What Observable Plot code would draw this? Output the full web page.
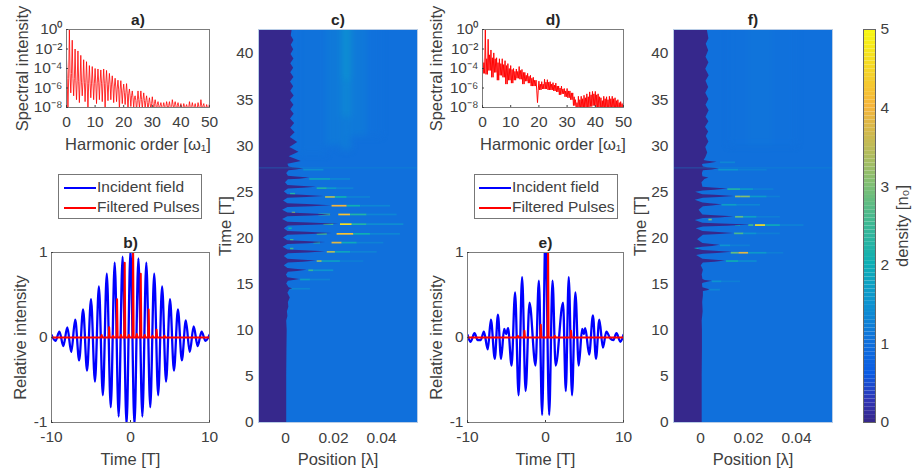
<!DOCTYPE html>
<html><head><meta charset="utf-8">
<script src="https://cdn.jsdelivr.net/npm/d3@7"></script>
<script src="https://cdn.jsdelivr.net/npm/@observablehq/plot@0.6"></script>
<style>
html,body{margin:0;padding:0;background:#fff;overflow:hidden}
#page{position:relative;width:914px;height:469px;overflow:hidden;font-family:'Liberation Sans',Arial,sans-serif;color:#404040}
.legend{position:absolute;box-sizing:border-box;border:1px solid #777;background:#fff;width:144px;height:45px;font-size:15.5px}
.legend div{position:absolute;white-space:nowrap}
.legend .sw{height:2px;width:32px}
</style></head><body><div id="page"></div>
<script>
// ---- spectra: log10 spectral intensity per harmonic 0..50
const aPeak=[-3,0,-1.1,-2,-2.2,-2.65,-3.1,-3.3,-3.7,-3.8,-4,-4.05,-4.15,-4.05,-4.2,-4.5,-4.75,-5,-5.2,-5.25,-5.6,-5.55,-6.1,-6.3,-6.8,-6.3,-6.3,-6.5,-6.8,-7,-6.9,-7.2,-7.4,-7.5,-7.5,-7.4,-7.4,-7.2,-7.4,-7.5,-7.6,-7.6,-7.7,-7.4,-7.5,-7.6,-7.5,-7.2,-7.6,-7.7,-7.6];
const aMid=[-5,-4.5,-5,-5.2,-5.3,-5.4,-5.4,-5.5,-5.5,-5.5,-5.5,-5.4,-5.5,-5.5,-5.6,-5.6,-5.8,-6,-6.2,-6.3,-6.5,-6.6,-6.8,-7,-7.3,-7.2,-7.2,-7.3,-7.5,-7.6,-7.6,-7.7,-7.8,-7.9,-7.9,-7.8,-7.9,-7.7,-7.8,-7.9,-8,-7.9,-8,-7.9,-7.9,-8,-7.9,-7.8,-8,-8,-7.9];
const aLow=[-8.5,-6.5,-6.8,-7.2,-7.5,-6.8,-7.4,-8.5,-7,-7.2,-7.6,-7.2,-7.4,-8.5,-7.3,-7.2,-7.5,-7.4,-8.2,-7.6,-7.7,-8.5,-7.9,-8,-8.4,-8,-8.2,-8.1,-8.5,-8.2,-8.3,-8.5,-8.2,-8.4,-8.3,-8.5,-8.3,-8.2,-8.5,-8.3,-8.4,-8.4,-8.6,-8.3,-8.4,-8.5,-8.3,-8.3,-8.5,-8.4,-8.3];
const dPeak=[-2.8,0,-1,-2.1,-2.4,-2.9,-3,-3,-3.2,-3.5,-3.7,-4,-4.05,-3.8,-4.1,-4.4,-4.5,-4.7,-4.9,-5.2,-5.3,-5.35,-5.1,-5.15,-5.35,-5.45,-5.5,-5.8,-5.8,-6.05,-6.05,-6.3,-6.5,-7.2,-6.85,-6.85,-6.75,-6.6,-6.4,-6.35,-6.35,-6.6,-7,-6.85,-6.9,-6.85,-6.85,-7,-7.2,-7.4,-7.4];
const dHigh=[-3.4,-3,-2.6,-2.9,-3,-3.4,-3.5,-3.6,-3.7,-4,-4.1,-4.3,-4.3,-4.2,-4.4,-4.7,-4.8,-5,-5.2,-7.5,-5.6,-5.6,-5.4,-5.4,-5.6,-5.7,-5.8,-6,-6.1,-6.3,-6.3,-6.5,-6.9,-7.5,-7.2,-7.1,-7,-6.9,-6.7,-6.6,-6.7,-6.9,-7.3,-7.1,-7.2,-7.1,-7.1,-7.3,-7.5,-7.6,-7.7];
const dLow=[-4.5,-4.6,-4.2,-4.9,-4.4,-5.2,-4.7,-4.9,-5.6,-5.2,-5.5,-5.2,-5,-5.1,-5.6,-5.3,-5.5,-5.8,-5.8,-6.3,-6.2,-6.1,-6.1,-6.2,-6.2,-6.3,-6.4,-6.7,-6.6,-6.9,-7,-7.2,-7.8,-8.5,-8.2,-8.3,-8,-8.2,-7.9,-7.8,-8.1,-8,-8.5,-8.2,-8.4,-8.2,-8.3,-8.4,-8.5,-8.5,-8.5];
// ---- incident field and filtered pulses
const bBlueT=[-10,-9.5,-9,-8.5,-8,-7.5,-7,-6.5,-6,-5.5,-5,-4.5,-4,-3.5,-3,-2.5,-2,-1.5,-1,-.5,0,.5,1,1.5,2,2.5,3,3.5,4,4.5,5,5.5,6,6.5,7,7.5,8,8.5,9,9.5,10];
const bBlueV=[.03,-.04,.07,-.1,.12,-.17,.21,-.27,.33,-.39,.45,-.52,.6,-.68,.75,-.82,.88,-.93,.95,-1.03,1.03,-1.03,.93,-.93,.88,-.82,.75,-.68,.6,-.52,.45,-.39,.33,-.27,.2,-.17,.13,-.1,.07,-.04,.03];
const bRedT=[-10,-3.75,-3.65,-3.55,-2.77,-2.7,-2.63,-2.3,-2.2,-2.1,-1.77,-1.7,-1.63,-1.3,-1.2,-1.1,-.8,-.73,-.66,-.3,-.2,-.1,.26,.33,.4,.7,.8,.9,1.23,1.3,1.37,1.7,1.8,1.9,2.23,2.3,2.37,2.7,2.8,2.9,3.23,3.3,3.37,4.2,4.3,4.4,10];
const bRedV=[0,0,.03,0,0,.12,0,0,.02,0,0,.45,0,0,.03,0,0,.88,0,0,.03,0,0,1.1,0,0,.04,0,0,.75,0,0,.03,0,0,.33,0,0,.02,0,0,.09,0,0,.02,0,0];
const eBlueT=[-10,-9.6,-9.1,-8.7,-8.3,-7.9,-7.4,-7,-6.5,-6.1,-5.7,-5.3,-5.05,-4.8,-4.35,-3.9,-3.45,-3,-2.55,-2.05,-1.28,-.85,-.43,0,.47,.9,1.3,2.25,2.6,2.98,3.4,3.83,4.26,4.7,4.9,5.1,5.6,6.08,6.47,6.9,7.36,7.8,8.3,8.7,9.1,9.6,10];
const eBlueV=[.03,-.05,.05,-.03,-.03,.07,-.14,.21,-.25,.27,-.25,.1,.04,.11,-.33,.53,-.68,.71,-.63,.41,-.33,.67,-.91,1.25,-.91,.67,-.33,.41,-.63,.71,-.68,.53,-.33,.1,.04,.11,-.2,.26,-.25,.21,-.12,.07,-.01,-.03,.05,-.05,.03];
const eRedT=[-10,-3.65,-3.55,-3.45,-2.77,-2.7,-2.63,-.67,-.6,-.53,.26,.33,.4,1.1,1.2,1.3,3.2,3.27,3.34,10];
const eRedV=[0,0,.02,0,0,.08,0,0,.15,0,0,1.1,0,0,.02,0,0,.08,0,0];
// ---- density maps: critical-surface position against time [T]
const cEdgeT=[0,5,8,10,11,11.5,12,12.5,13,13.5,14,14.38,14.5,14.62,
15,15.3,15.38,15.5,15.62,15.7,16,16.3,16.38,16.5,16.62,16.7,17,17.3,17.38,17.5,17.62,17.7,18,18.3,18.38,18.5,18.62,18.7,19,19.3,19.38,19.5,19.62,19.7,20,20.3,20.38,20.5,20.62,20.7,21,21.3,21.38,21.5,21.62,21.7,22,22.3,22.38,22.5,22.62,22.7,23,23.3,23.38,23.5,23.62,23.7,24,24.3,24.38,24.5,24.62,24.7,25,25.3,25.38,25.5,25.62,25.7,26,26.3,26.38,26.5,26.62,26.7,27,27.3,27.38,27.5,27.62,27.7,
28,28.3,28.8,29.3,29.8,30.36,30.9,31.4,31.9,32.4,32.9,33.4,33.9,34.4,34.9,35.4,35.9,36.4,36.9,37.4,37.9,38.4,38.9,39.4,39.9,40.4,40.9,41.4,41.9,42.6];
const cEdgeX=[.0005,.0005,.0006,.0007,.0005,.001,.0008,.0014,.0012,.002,.001,.0018,.003,.0015,
.0005,.0012,.0035,.006,.003,.001,.0004,.0012,.005,.009,.004,.001,-.0005,.0012,.0075,.0129,.006,.001,-.0005,.0012,.0095,.0167,.008,.001,-.001,.001,.0095,.0167,.008,.001,-.0008,.001,.011,.0194,.009,.001,-.0005,.0012,.012,.0222,.01,.001,-.0012,.001,.011,.0194,.009,.001,-.0012,.001,.011,.019,.009,.001,-.0008,.001,.009,.016,.007,.001,-.0005,.0012,.0075,.0129,.006,.001,0,.0012,.006,.0101,.0045,.0012,.0005,.0015,.0045,.0076,.003,.0015,
.001,.0066,.0015,.0056,.0018,.0051,.002,.004,.0022,.0038,.0021,.0036,.0022,.0035,.0021,.0036,.0022,.0034,.0021,.0035,.0022,.0034,.0022,.0035,.0023,.0034,.0024,.0035,.0024,.0028];
const fEdgeT=[0,5,8,10,11,12,13,13.7,14.2,14.28,14.4,14.52,14.6,15,15.1,15.2,15.3,15.4,15.5,16,16.5,17,17.3,17.38,17.5,17.62,17.7,18.1,18.25,18.33,18.45,18.57,18.65,18.85,19,19.08,19.2,19.32,19.4,19.8,20.3,20.38,20.5,20.62,20.7,21,21.2,21.28,21.4,21.52,21.6,21.9,22.1,22.18,22.3,22.42,22.5,23,23.4,23.48,23.6,23.72,23.8,24.1,24.3,24.38,24.5,24.62,24.7,24.95,25.1,25.18,25.3,25.42,25.5,26,26.35,26.5,26.65,27,27.3,27.38,27.5,27.62,27.7,27.9,28,28.08,28.2,28.32,28.4,28.7,29.2,29.8,30.4,31,31.5,32,32.6,33.1,33.8,34.4,35,35.7,36.3,37,37.6,38.3,39,39.6,40.3,41,41.6,42.6];
const fEdgeX=[.0007,.0007,.0008,.0008,.0007,.0011,.0009,.0012,.0012,.003,.0039,.002,.001,.0008,.0012,.003,.0049,.002,.001,.0007,.0012,.0003,.0012,.006,.0104,.005,.001,-.0016,.0012,.007,.0132,.006,.001,-.0028,.001,.005,.0081,.004,.001,-.0012,.0012,.008,.0139,.006,.001,-.0018,.0012,.011,.0208,.009,.001,-.0022,.0012,.008,.0139,.006,.001,-.0006,.0012,.005,.009,.004,.001,-.0022,.0012,.008,.0142,.006,.001,-.002,.0012,.006,.0114,.005,.001,.0006,.0018,.0035,.001,.0008,.0012,.005,.0079,.003,.0012,.0008,.0012,.004,.0069,.003,.0015,.0022,.003,.0022,.0035,.0024,.0034,.0021,.0035,.0023,.0036,.0023,.0035,.0022,.0034,.0023,.0036,.0022,.0035,.0023,.0034,.0024,.0035,.0028];
// ---- filaments: [time, x1, x2, density]
const cStreaks=[[27.4,.0076,.0160,1.4],[26.4,.0101,.0188,1.8],[26.4,.0188,.0271,1.3],[25.4,.0132,.0174,2.2],[25.4,.0174,.0215,1.6],[25.4,.0215,.0285,1.25],[24.45,.0167,.0208,3.4],[24.45,.0208,.0257,2],[24.45,.0257,.0354,1.25],[23.5,.0194,.0257,4],[23.5,.0257,.0313,2],[23.5,.0313,.0438,1.3],[22.55,.0139,.0188,2.6],[22.55,.0222,.0271,4.2],[22.55,.0271,.0340,2.2],[22.55,.0340,.0465,1.3],[21.5,.0160,.0201,2.5],[21.5,.0229,.0278,4.6],[21.5,.0278,.0340,2.2],[21.5,.0340,.0493,1.4],[20.45,.0132,.0174,2.5],[20.45,.0215,.0285,4.2],[20.45,.0285,.0354,2],[20.45,.0354,.0479,1.3],[19.5,.0118,.0146,2.2],[19.5,.0194,.0236,3.8],[19.5,.0236,.0299,1.9],[19.5,.0299,.0410,1.25],[18.5,.0174,.0208,3.4],[18.5,.0208,.0271,1.8],[18.5,.0271,.0382,1.25],[17.5,.0132,.0153,3.2],[17.5,.0153,.0229,1.7],[17.5,.0229,.0326,1.2],[16.5,.0097,.0118,2.4],[16.5,.0118,.0201,1.5],[15.5,.0063,.0104,1.7],[15.5,.0104,.0188,1.25],[14.5,.0021,.0104,1.3],[22.75,.0028,.0042,3],[24.8,.0021,.0042,2.2],[19.8,.0021,.0035,2.5],[18.85,.0021,.0035,2.5],[21.05,.0014,.0028,2]];
const fStreaks=[[28.2,.0083,.0146,1.3],[27.4,.0076,.0160,1.5],[27.4,.0160,.0278,1.2],[25.3,.0114,.0167,2.2],[25.3,.0167,.0222,1.6],[25.3,.0222,.0306,1.2],[24.5,.0146,.0167,3.2],[24.5,.0167,.0208,3],[24.5,.0208,.0278,1.6],[24.5,.0278,.0333,1.2],[23.6,.0090,.0153,1.7],[23.6,.0153,.0250,1.3],[22.3,.0146,.0181,2.8],[22.3,.0181,.0236,1.7],[22.3,.0236,.0333,1.2],[21.4,.0146,.0167,1.8],[21.4,.0201,.0222,2.5],[21.4,.0229,.0271,4.6],[21.4,.0271,.0333,1.9],[21.4,.0333,.0431,1.25],[20.5,.0142,.0181,2.6],[20.5,.0181,.0236,1.5],[20.5,.0236,.0333,1.2],[19.2,.0083,.0125,1.5],[19.2,.0125,.0208,1.2],[18.4,.0128,.0160,2.8],[18.4,.0160,.0201,3.8],[18.4,.0201,.0278,1.6],[18.4,.0278,.0347,1.2],[17.5,.0108,.0160,2],[17.5,.0160,.0236,1.4],[15.3,.0049,.0090,1.5],[15.3,.0090,.0167,1.2],[14.4,.0039,.0083,1.3],[22,.0035,.0049,3],[18.85,-.0021,-.0007,2]];
// ---- soft background patches: [x1, x2, t1, t2, density]
const baseDensity=[1];
const cPatches=[[.006,.017,29,46,1.03],[.017,.0235,30,46,1.12],[.0235,.0275,37,46,1.42],[.0235,.0275,33,37,1.3],[.0235,.0275,29.5,33,1.15],[.0275,.034,31,46,1.12],[.034,.04,31,46,1.02]];
const fPatches=[[.012,.02,30,46,1.02],[.02,.03,30,46,1.06],[.03,.04,30,46,1.02]];
const glitchT=[27.6];
// ---- scales and ticks
const densityStops=[0,.25,.6,1,1.5,2,2.5,3,3.5,4,4.5,5];
const densityColors=["#36288c","#3034b4","#0a5ce4","#1070dc","#0d94d0","#0eafb4","#3db893","#80bf74","#c0bb56","#f6b53b","#f5d826","#f8fa10"];
const densityLevels=d3.range(0,5,.05);
const spectrumTicks=[1,1e-2,1e-4,1e-6,1e-8];
const spectrumLabels=["10⁰","10⁻²","10⁻⁴","10⁻⁶","10⁻⁸"];
const timeTicks=[0,5,10,15,20,25,30,35,40];
const posTicks=[0,.02,.04];
const harmonicTicks=[0,10,20,30,40,50];
const BASE={fontFamily:"'Liberation Sans',Arial,sans-serif",fontSize:"15.5px",color:"#404040",background:"transparent",overflow:"visible"};
const colorScale={type:"linear",domain:densityStops,range:densityColors,interpolate:"rgb",clamp:true};
const page=document.getElementById("page");
function put(svg,x,y){svg.style.position="absolute";svg.style.left=x+"px";svg.style.top=y+"px";svg.style.maxWidth="none";page.appendChild(svg);}
const frame=()=>Plot.frame({stroke:"#7c7c7c",strokeWidth:1});
const title=(t,dy)=>Plot.text([t],{frameAnchor:"top",lineAnchor:"middle",dy,fontWeight:"bold",fontSize:15.5,fill:"#262626"});
const xLabel=(label,labelOffset)=>Plot.axisX({ticks:[],tickSize:0,label,labelAnchor:"center",labelArrow:"none",labelOffset,fontSize:16.5});
const yLabel=(label,labelOffset,anchor)=>Plot.axisY({anchor:anchor||"left",ticks:[],tickSize:0,label,labelAnchor:"center",labelArrow:"none",labelOffset,fontSize:16.5});

function spectrum(name,x0,w,series,ylabOff,sw){
  const ml=60,mt=24;
  const p=Plot.plot({width:w+ml+12,height:78+mt+50,marginLeft:ml,marginRight:12,marginTop:mt,marginBottom:50,style:BASE,
    x:{domain:[0,50]},y:{type:"log",domain:[1e-8,1]},
    marks:[
      Plot.line(series,{x:"h",y:"v",stroke:"#ff0000",strokeWidth:sw,clip:true}),
      frame(),
      Plot.axisX({ticks:harmonicTicks,tickSize:-2,tickPadding:10,tickFormat:d=>String(d),label:null}),
      xLabel("Harmonic order [ω₁]",42),
      Plot.axisY({ticks:spectrumTicks,tickSize:-2,tickPadding:6,tickFormat:d=>spectrumLabels[spectrumTicks.indexOf(d)],label:null}),
      yLabel("Spectral intensity",ylabOff),
      title(name,-9)
    ]});
  put(p,x0-ml,29-mt);
}
function field(name,x0,w,blueT,blueV,redT,redV,ylabOff){
  const ml=60,mt=24;
  const blue=blueT.map((t,i)=>({t,v:blueV[i]})),red=redT.map((t,i)=>({t,v:redV[i]}));
  const p=Plot.plot({width:w+ml+12,height:170+mt+46,marginLeft:ml,marginRight:12,marginTop:mt,marginBottom:46,style:BASE,
    x:{domain:[-10,10]},y:{domain:[-1,1]},
    marks:[
      Plot.line(blue,{x:"t",y:"v",stroke:"#0000ff",strokeWidth:2.3,curve:"monotone-x",clip:true}),
      Plot.line(red,{x:"t",y:"v",stroke:"#ff0000",strokeWidth:2,clip:true}),
      frame(),
      Plot.axisX({ticks:[-10,0,10],tickSize:-2,tickPadding:10,tickFormat:d=>String(d),label:null}),
      xLabel("Time [T]",42),
      Plot.axisY({ticks:[-1,0,1],tickSize:-2,tickPadding:6,tickFormat:d=>String(d),label:null}),
      yLabel("Relative intensity",ylabOff),
      title(name,-9)
    ]});
  put(p,x0-ml,252-mt);
}
function densityMap(name,x0,patches,edgeT,edgeX,streaks){
  const ml=40,mt=24;
  const edge=edgeT.map((t,i)=>({t,x:edgeX[i]}));
  const p=Plot.plot({width:159+ml+10,height:393+mt+46,marginLeft:ml,marginRight:10,marginTop:mt,marginBottom:46,style:BASE,
    x:{domain:[-.01125,.055]},y:{domain:[0,42.6]},color:colorScale,
    marks:[
      Plot.rect(baseDensity,{x1:()=>-.01125,x2:()=>.055,y1:()=>0,y2:()=>42.6,fill:d=>d}),
      Plot.rect(patches,{x1:d=>d[0],x2:d=>d[1],y1:d=>d[2],y2:d=>d[3],fill:d=>d[4],imageFilter:"blur(3px)",clip:true}),
      Plot.ruleY(streaks,{y:d=>d[0],x1:d=>d[1],x2:d=>d[2],stroke:d=>d[3],strokeWidth:1.7,imageFilter:"blur(0.45px)",clip:true}),
      Plot.areaX(edge,{y:"t",x1:()=>-.01125,x2:"x",fill:()=>0,imageFilter:"blur(0.3px)",clip:true}),
      Plot.ruleY(glitchT,{stroke:()=>1.5,strokeWidth:.8,strokeOpacity:.5}),
      Plot.frame({stroke:"#b9cde6",strokeWidth:1}),
      Plot.axisX({ticks:posTicks,tickSize:0,tickPadding:9,tickFormat:d=>String(d),label:null}),
      xLabel("Position [λ]",42),
      Plot.axisY({ticks:timeTicks,tickSize:0,tickPadding:5,tickFormat:d=>String(d),label:null}),
      yLabel("Time [T]",39),
      title(name,-9)
    ]});
  put(p,x0-ml,29-mt);
}
function harmonics(peak,mid,low,mid2){
  const out=[];
  peak.forEach((v,i)=>{out.push({h:i,v:10**v});
    if(i<peak.length-1){out.push({h:i+.25,v:10**mid[i]},{h:i+.5,v:10**low[i]},{h:i+.75,v:10**mid2[i]});}});
  return out;
}
spectrum("a)",66,143,harmonics(aPeak,aMid,aLow,aMid),50,.8);
field("b)",51,158,bBlueT,bBlueV,bRedT,bRedV,37);
densityMap("c)",258,cPatches,cEdgeT,cEdgeX,cStreaks);
spectrum("d)",482,141,harmonics(dPeak,dLow,dHigh,dLow),52,.95);
field("e)",467,156,eBlueT,eBlueV,eRedT,eRedV,37);
densityMap("f)",673,fPatches,fEdgeT,fEdgeX,fStreaks);

// colour bar
const bar=Plot.plot({width:12+50,height:393+20,marginLeft:0,marginRight:50,marginTop:10,marginBottom:10,style:BASE,
  x:{domain:[0,1],axis:null},y:{domain:[0,5]},color:colorScale,
  marks:[
    Plot.rect(densityLevels,{x1:()=>0,x2:()=>1,y1:d=>d,y2:d=>d+.05,fill:d=>d}),
    Plot.frame({stroke:"#666",strokeWidth:1}),
    Plot.axisY({anchor:"right",ticks:[0,1,2,3,4,5],tickSize:0,tickPadding:5,tickFormat:d=>String(d),label:null}),
    yLabel("density [n₀]",32,"right")
  ]});
put(bar,863,19);

// legends
function legend(left,lineX,textX){
  const d=document.createElement("div");d.className="legend";d.style.left=left+"px";d.style.top="174px";
  d.innerHTML=`<div class="sw" style="left:${lineX}px;top:12px;background:#0000ff"></div><div style="left:${textX}px;top:3px">Incident field</div>
  <div class="sw" style="left:${lineX}px;top:32px;background:#ff0000"></div><div style="left:${textX}px;top:23px">Filtered Pulses</div>`;
  page.appendChild(d);
}
legend(58,5,38);
legend(474,4,37);
</script></body></html>
